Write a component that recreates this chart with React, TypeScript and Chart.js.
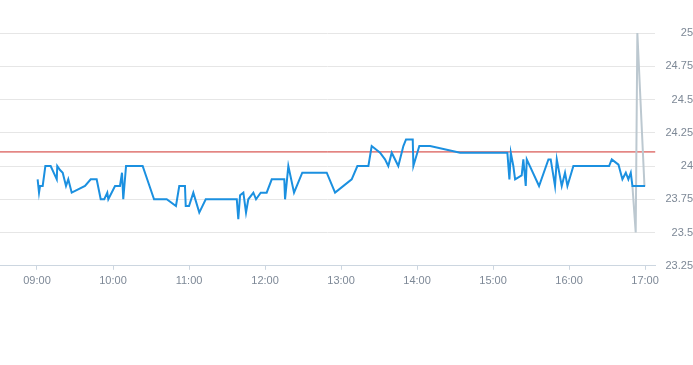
import React, { useEffect, useRef } from "react";
import { Chart, registerables } from "chart.js";

Chart.register(...registerables);

const priceTimes: string[] = [
  "09:00:30", "09:01:36", "09:02:24", "09:04:30", "09:06:36", "09:10:48", "09:15:36", "09:16:00",
  "09:18:12", "09:20:18", "09:22:54", "09:24:42", "09:27:24", "09:37:54", "09:42:24", "09:47:06",
  "09:50:18", "09:53:06", "09:55:30", "09:56:18", "10:01:36", "10:05:30", "10:07:06", "10:08:06",
  "10:10:18", "10:23:24", "10:32:24", "10:42:24", "10:49:42", "10:52:18", "10:56:48", "10:57:24",
  "11:00:00", "11:03:24", "11:08:06", "11:13:12", "11:37:42", "11:38:54", "11:40:18", "11:42:54",
  "11:45:00", "11:46:48", "11:50:48", "11:52:54", "11:56:36", "12:01:18", "12:05:18", "12:15:12",
  "12:15:48", "12:18:24", "12:22:54", "12:29:24", "12:48:42", "12:55:18", "13:08:24", "13:12:54",
  "13:21:36", "13:24:12", "13:30:48", "13:34:42", "13:37:18", "13:40:00", "13:45:12", "13:49:12",
  "13:51:18", "13:56:36", "13:57:06", "14:01:48", "14:10:18", "14:34:00", "15:11:18", "15:12:54",
  "15:14:00", "15:16:00", "15:17:24", "15:22:36", "15:23:54", "15:25:48", "15:26:36", "15:36:18",
  "15:43:42", "15:45:30", "15:48:54", "15:50:18", "15:54:12", "15:56:48", "15:58:42", "16:03:24",
  "16:31:36", "16:33:42", "16:39:00", "16:42:06", "16:44:48", "16:46:48", "16:48:42", "16:50:00",
  "17:00:00",
];

const priceValues: number[] = [
  23.9, 23.8, 23.85, 23.85, 24.0, 24.0, 23.9, 24.0,
  23.97, 23.95, 23.85, 23.9, 23.8, 23.85, 23.9, 23.9,
  23.75, 23.75, 23.8, 23.75, 23.85, 23.85, 23.95, 23.75,
  24.0, 24.0, 23.75, 23.75, 23.7, 23.85, 23.85, 23.7,
  23.7, 23.8, 23.65, 23.75, 23.75, 23.6, 23.78, 23.8,
  23.65, 23.75, 23.8, 23.75, 23.8, 23.8, 23.9, 23.9,
  23.75, 24.0, 23.8, 23.95, 23.95, 23.8, 23.9, 24.0,
  24.0, 24.15, 24.1, 24.05, 24.0, 24.1, 24.0, 24.15,
  24.2, 24.2, 24.0, 24.15, 24.15, 24.1, 24.1, 23.9,
  24.1, 24.0, 23.9, 23.93, 24.05, 23.85, 24.05, 23.85,
  24.05, 24.05, 23.85, 24.05, 23.85, 23.95, 23.85, 24.0,
  24.0, 24.05, 24.01, 23.9, 23.95, 23.9, 23.95, 23.85,
  23.85,
];

const auctionTimes: string[] = ["16:50:00", "16:52:36", "16:53:54", "16:59:30", "17:00:00"];
const auctionValues: number[] = [23.85, 23.5, 25.0, 23.85, 23.85];

const referencePrice = 24.106;

const hourTicks: string[] = ["09:00", "10:00", "11:00", "12:00", "13:00", "14:00", "15:00", "16:00", "17:00"];
const yTicks: number[] = [23.25, 23.5, 23.75, 24, 24.25, 24.5, 24.75, 25];

const xMinTime = "08:30:48";
const xMaxTime = "17:08:12";

function toMinutes(t: string): number {
  const p = t.split(":").map(Number);
  return p[0] * 60 + p[1] + (p[2] || 0) / 60;
}

function fmt(m: number): string {
  const h = Math.floor(m / 60);
  const mm = Math.round(m - h * 60);
  return String(h).padStart(2, "0") + ":" + String(mm).padStart(2, "0");
}

export default function App() {
  const ref = useRef<HTMLCanvasElement | null>(null);

  useEffect(() => {
    if (!ref.current) return;
    const xMin = toMinutes(xMinTime);
    const xMax = toMinutes(xMaxTime);
    const tickFont = { family: "'Liberation Sans', Arial, sans-serif", size: 11 };
    const tickColor = "#7d8896";
    const chart = new Chart(ref.current, {
      type: "line",
      data: {
        datasets: [
          {
            label: "ref",
            data: [
              { x: xMin, y: referencePrice },
              { x: xMax, y: referencePrice },
            ],
            borderColor: "#d0302b",
            borderWidth: 1,
            pointRadius: 0,
            order: 3,
          },
          {
            label: "auction",
            data: auctionTimes.map((t, i) => ({ x: toMinutes(t), y: auctionValues[i] })),
            borderColor: "#bcc8d0",
            borderWidth: 2,
            pointRadius: 0,
            order: 2,
          },
          {
            label: "price",
            data: priceTimes.map((t, i) => ({ x: toMinutes(t), y: priceValues[i] })),
            borderColor: "#1b90e0",
            borderWidth: 2,
            pointRadius: 0,
            order: 1,
          },
        ],
      },
      options: {
        animation: false,
        responsive: false,
        maintainAspectRatio: false,
        layout: { padding: { top: 33, bottom: 72, left: 0, right: 0 } },
        plugins: { legend: { display: false }, tooltip: { enabled: false } },
        scales: {
          x: {
            type: "linear",
            min: xMin,
            max: xMax,
            afterBuildTicks: (scale: any) => {
              scale.ticks = hourTicks.map((h) => ({ value: toMinutes(h) }));
            },
            ticks: {
              autoSkip: false,
              maxRotation: 0,
              padding: 5,
              color: tickColor,
              font: tickFont,
              callback: (v: any) => fmt(Number(v)),
            },
            grid: { drawOnChartArea: false, drawTicks: true, tickLength: 4, color: "#ccd6e0" },
            border: { color: "#ccd6e0" },
          },
          y: {
            position: "right",
            min: 23.25,
            max: 25,
            afterBuildTicks: (scale: any) => {
              scale.ticks = yTicks.map((v) => ({ value: v }));
            },
            ticks: {
              padding: 5,
              crossAlign: "far",
              color: tickColor,
              font: tickFont,
              callback: (v: any) => String(Number(Number(v).toFixed(2))),
            },
            grid: { color: "#e6e6e6", drawTicks: false },
            border: { display: false },
          },
        },
      },
    });
    return () => chart.destroy();
  }, []);

  return (
    <div style={{ position: "absolute", left: 0, top: 0, width: 693, height: 365 }}>
      <canvas ref={ref} width={693} height={365} style={{ width: 693, height: 365 }} />
    </div>
  );
}
